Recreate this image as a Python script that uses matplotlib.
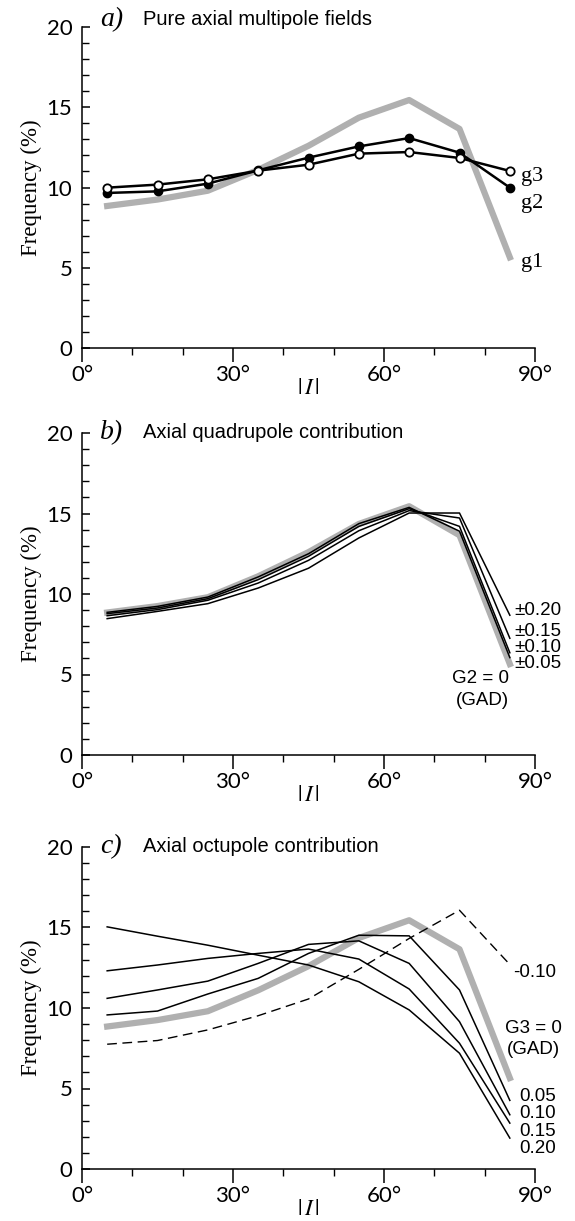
import matplotlib
matplotlib.use("Agg")
import matplotlib.pyplot as plt
from matplotlib.ticker import MultipleLocator, FuncFormatter

# inclination bins (deg)
incl = [5, 15, 25, 35, 45, 55, 65, 75, 85]

# GAD reference (g1)
gad = [8.85, 9.25, 9.8, 11.1, 12.6, 14.35, 15.45, 13.65, 5.65]

# a) pure axial multipoles
g2 = [9.66, 9.76, 10.24, 11.07, 11.86, 12.56, 13.08, 12.17, 9.99]
g3 = [9.99, 10.18, 10.51, 11.05, 11.42, 12.11, 12.21, 11.84, 11.03]

# b) quadrupole contribution, G2 = +-0.05 ... +-0.20
g2_labels = ["\u00b10.05", "\u00b10.10", "\u00b10.15", "\u00b10.20"]
g2_curves = [
    [8.86, 9.23, 9.81, 11.06, 12.50, 14.37, 15.38, 13.90, 6.05],
    [8.78, 9.13, 9.71, 10.89, 12.34, 14.20, 15.30, 14.20, 6.35],
    [8.65, 9.03, 9.61, 10.68, 12.09, 13.93, 15.18, 14.72, 7.25],
    [8.47, 8.92, 9.40, 10.37, 11.60, 13.48, 15.03, 15.03, 8.68],
]

# c) octupole contribution
g3_labels = ["0.05", "0.10", "0.15", "0.20"]
g3_curves = [
    [9.57, 9.81, 10.87, 11.84, 13.39, 14.52, 14.48, 11.12, 4.26],
    [10.60, 11.12, 11.67, 12.77, 13.95, 14.17, 12.77, 9.15, 3.37],
    [12.31, 12.67, 13.08, 13.39, 13.66, 13.04, 11.18, 7.81, 2.85],
    [15.04, 14.46, 13.90, 13.28, 12.67, 11.63, 9.88, 7.19, 1.92],
]
g3_neg = [7.75, 7.98, 8.64, 9.52, 10.56, 12.40, 14.32, 16.07, 12.70]

SANS = "Liberation Sans"
SERIF = "Liberation Serif"
TICK_FONT = "Lato"
GRAY = "#b0b0b0"
LABEL_SIZE = 13.5

plt.rcParams["mathtext.fontset"] = "stix"

fig = plt.figure(figsize=(5.75, 12.21), dpi=100)

W, H = 575.0, 1221.0
x0, x1 = 82, 535
panels = [(27, 348), (433, 755), (847, 1169)]
axes = []
for top, bot in panels:
    ax = fig.add_axes([x0 / W, 1 - bot / H, (x1 - x0) / W, (bot - top) / H])
    axes.append(ax)


def style_axis(ax):
    ax.set_xlim(0, 90)
    ax.set_ylim(0, 20)
    for s in ("top", "right"):
        ax.spines[s].set_visible(False)
    for s in ("left", "bottom"):
        ax.spines[s].set_linewidth(1.1)
    ax.xaxis.set_major_locator(MultipleLocator(30))
    ax.xaxis.set_minor_locator(MultipleLocator(10))
    ax.yaxis.set_major_locator(MultipleLocator(5))
    ax.yaxis.set_minor_locator(MultipleLocator(1))
    ax.xaxis.set_major_formatter(FuncFormatter(lambda v, p: f"{v:.0f}\u00b0"))
    ax.tick_params(axis="x", which="major", direction="out", length=10, width=1.1, pad=2)
    ax.tick_params(axis="x", which="minor", direction="out", length=5, width=1.0)
    ax.tick_params(axis="y", which="major", direction="in", length=6, width=1.1, pad=7)
    ax.tick_params(axis="y", which="minor", direction="in", length=5, width=1.0)
    for lab in ax.get_xticklabels() + ax.get_yticklabels():
        lab.set_fontfamily(TICK_FONT)
        lab.set_fontsize(16)
    ax.set_ylabel("Frequency (%)", fontfamily=SERIF, fontsize=16.5, labelpad=3)
    ax.set_xlabel(r"$|\,I\,|$", fontsize=16.5, labelpad=-6)


for ax in axes:
    style_axis(ax)

# ---- a) pure axial multipole fields
ax = axes[0]
ax.plot(incl, gad, color=GRAY, lw=4.5, zorder=1)
ax.plot(incl, g2, color="black", lw=1.8, marker="o", ms=6, mfc="black", mec="black", zorder=2)
ax.plot(incl, g3, color="black", lw=1.8, marker="o", ms=6, mfc="white", mec="black", mew=1.3, zorder=3)
ax.text(87.2, 10.7, "g3", fontfamily=SERIF, fontsize=16, va="center")
ax.text(87.2, 9.0, "g2", fontfamily=SERIF, fontsize=16, va="center")
ax.text(87.2, 5.3, "g1", fontfamily=SERIF, fontsize=16, va="center")

# ---- b) axial quadrupole contribution
ax = axes[1]
ax.plot(incl, gad, color=GRAY, lw=4.5, zorder=1)
for curve in g2_curves:
    ax.plot(incl, curve, color="black", lw=1.1, zorder=2)
for lab, yy in zip(g2_labels, [5.7, 6.7, 7.7, 9.0]):
    ax.text(86.0, yy, lab, fontfamily=SANS, fontsize=LABEL_SIZE, va="center")
ax.text(84.9, 4.75, "G2 = 0", fontfamily=SANS, fontsize=LABEL_SIZE, va="center", ha="right")
ax.text(84.9, 3.4, "(GAD)", fontfamily=SANS, fontsize=LABEL_SIZE, va="center", ha="right")

# ---- c) axial octupole contribution
ax = axes[2]
ax.plot(incl, gad, color=GRAY, lw=4.5, zorder=1)
for curve in g3_curves:
    ax.plot(incl, curve, color="black", lw=1.1, zorder=2)
ax.plot(incl, g3_neg, color="black", lw=1.0, ls=(0, (7, 4)), zorder=2)
for lab, yy in zip(g3_labels, [4.5, 3.45, 2.35, 1.25]):
    ax.text(86.8, yy, lab, fontfamily=SANS, fontsize=LABEL_SIZE, va="center")
ax.text(85.6, 12.2, "-0.10", fontfamily=SANS, fontsize=LABEL_SIZE, va="center")
ax.text(89.6, 8.75, "G3 = 0", fontfamily=SANS, fontsize=LABEL_SIZE, va="center", ha="center")
ax.text(89.6, 7.45, "(GAD)", fontfamily=SANS, fontsize=LABEL_SIZE, va="center", ha="center")

# panel headings
heads = [("a)", "Pure axial multipole fields", 1.022),
         ("b)", "Axial quadrupole contribution", 1.0),
         ("c)", "Axial octupole contribution", 1.0)]
for ax, (letter, title, yy) in zip(axes, heads):
    ax.text(0.04, yy, letter, transform=ax.transAxes, fontfamily=SERIF,
            style="italic", fontsize=20, va="center", ha="left")
    ax.text(0.135, yy, title, transform=ax.transAxes, fontfamily=SANS,
            fontsize=14.5, va="center", ha="left")

fig.savefig("out.png", dpi=100)
